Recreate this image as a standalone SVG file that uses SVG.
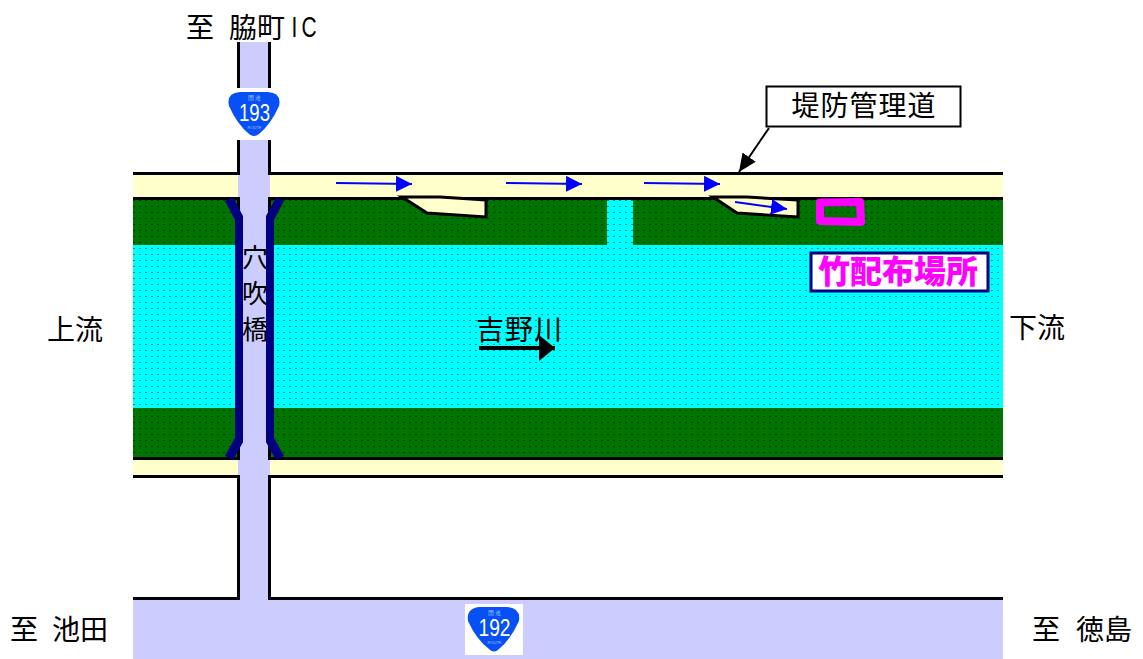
<svg xmlns="http://www.w3.org/2000/svg" width="1143" height="659" viewBox="0 0 1143 659">
<style>
text{font-family:"Noto Sans CJK JP","Liberation Sans",sans-serif;fill:#000;font-size:28px}
.road{fill:#ccccff}
.bank{fill:#ffffcc}
.k{stroke:#000;stroke-width:3;fill:none}
.br{stroke:#000080;stroke-width:8;fill:none}
.dg{stroke:#000080;stroke-width:9;fill:none}
.bl{stroke:#0000ff;stroke-width:2;fill:none;marker-end:url(#ba)}
.sign{fill:#0650f5}
.st{fill:#fff;font-family:"Liberation Sans",sans-serif;text-anchor:middle}
.sm{fill:#a8c8ff;font-family:"Liberation Sans",sans-serif;text-anchor:middle}
.poly{fill:#ffffcc;stroke:#000;stroke-width:3}
</style>
<defs>
<pattern id="pg" width="6" height="6" patternUnits="userSpaceOnUse"><rect width="6" height="6" fill="#007400"/><rect x="1" y="2" width="2" height="1" fill="#003c00"/></pattern>
<pattern id="pc" width="6" height="6" patternUnits="userSpaceOnUse"><rect width="6" height="6" fill="#00ffff"/><rect x="1" y="2" width="2" height="1" fill="#009098"/></pattern>
<marker id="ba" markerUnits="userSpaceOnUse" markerWidth="16" markerHeight="16" refX="16" refY="8" orient="auto"><path d="M0 0L16 8L0 16Z" fill="#0000ff"/></marker>
<marker id="ka" markerUnits="userSpaceOnUse" markerWidth="18" markerHeight="18" refX="18" refY="9" orient="auto"><path d="M0 1L18 9L0 17Z" fill="#000"/></marker>
<marker id="kb" markerUnits="userSpaceOnUse" markerWidth="16" markerHeight="26" refX="16" refY="13" orient="auto"><path d="M0 0L16 13L0 26Z" fill="#000"/></marker>
</defs>
<g id="river">
<rect x="133" y="173" width="870" height="25" class="bank"/>
<rect x="133" y="199" width="870" height="46" fill="url(#pg)"/>
<rect x="607" y="199" width="26" height="46" fill="url(#pc)"/>
<rect x="133" y="245" width="870" height="163" fill="url(#pc)"/>
<rect x="133" y="408" width="870" height="51" fill="url(#pg)"/>
<rect x="133" y="459" width="870" height="17" class="bank"/>
<path class="k" d="M133 173.500H1003M133 198.500H1003M133 458.500H1003M133 476.500H1003"/>
<path class="poly" d="M402 197H440L486 200V217L427 213Z"/>
<path class="poly" d="M713 197H747L798 200V217L737 213Z"/>
</g>
<g id="road-193">
<rect x="240" y="42" width="28" height="558" class="road"/>
<rect x="238" y="175" width="32" height="22" class="road"/>
<rect x="238" y="460" width="32" height="15" class="road"/>
<path class="k" d="M238.500 42V175M269.500 42V175M238.500 197V216M269.500 197V216M238.500 442V460M269.500 442V460M238.500 475V599M269.500 475V599"/>
</g>
<g id="road-192"><rect x="133" y="600" width="870" height="59" class="road"/><path class="k" d="M133 598.500H240M268 598.500H1003"/></g>
<g id="bridge">
<path class="br" d="M239 216V442M270 216V442"/>
<path class="dg" d="M239 218L229 199M270 218L280 199M239 440L229 458M270 440L280 458"/>
<text text-anchor="middle" style="font-size:26px"><tspan x="255" y="267">穴</tspan><tspan x="255" y="303">吹</tspan><tspan x="255" y="339">橋</tspan></text>
</g>
<g id="sign-193">
<rect x="227" y="88" width="55" height="52" fill="#fff"/>
<path class="sign" d="M240 92H268Q282 93 279 106Q271 124 259 134Q254 138 249 134Q237 124 229 106Q226 93 240 92Z"/>
<text class="st" x="254.500" y="121" textLength="31" lengthAdjust="spacingAndGlyphs" style="font-size:24px">193</text>
<text class="sm" x="254.500" y="100" style="font-size:6px">国 道</text>
<text class="sm" x="254.500" y="129" style="font-size:4px">ROUTE</text>
</g>
<g id="sign-192">
<rect x="465" y="604" width="58" height="51" fill="#fff"/>
<path class="sign" d="M480 607H507Q521 608 519 621Q511 639 499 649Q494 654 489 649Q476 639 468 621Q466 608 480 607Z"/>
<text class="st" x="494.500" y="636" textLength="32" lengthAdjust="spacingAndGlyphs" style="font-size:24px">192</text>
<text class="sm" x="494.500" y="615" style="font-size:6px">国 道</text>
<text class="sm" x="494.500" y="644" style="font-size:4px">ROUTE</text>
</g>
<g id="connectors">
<path class="bl" d="M336 183L412 184"/>
<path class="bl" d="M506 183L582 184"/>
<path class="bl" d="M644 183L720 184"/>
<path class="bl" d="M735 202L787 209"/>
<path d="M769 128L739 172" stroke="#000" stroke-width="2" fill="none" marker-end="url(#ka)"/>
<path d="M479 348H555" stroke="#000" stroke-width="4" fill="none" marker-end="url(#kb)"/>
</g>
<g id="label-road"><rect x="766.500" y="86.500" width="194" height="40" fill="#fff" stroke="#000" stroke-width="2"/><text x="864" y="116" text-anchor="middle" letter-spacing="1">堤防管理道</text></g>
<g id="bamboo-site"><path d="M820 202.500L860 202L861 222L820 221Z" fill="none" stroke="#ff00ff" stroke-width="8" stroke-linejoin="round"/></g>
<g id="label-bamboo"><rect x="811" y="253" width="177" height="38" fill="#fff" stroke="#000080" stroke-width="3"/><text x="898" y="283" text-anchor="middle" style="font-size:32px;font-weight:900;fill:#ff00ff">竹配布場所</text></g>
<g id="labels">
<text x="186" y="38">至</text><text x="229" y="38">脇町</text>
<text transform="translate(290 37) scale(.7 1)" x="2.300 16.400" y="0" style="font-family:'Liberation Sans',sans-serif;font-size:30px">IC</text>
<text x="47" y="340">上流</text>
<text x="1009" y="338">下流</text>
<text x="476" y="340" letter-spacing="1">吉野川</text>
<text x="10" y="640">至</text><text x="52" y="640">池田</text>
<text x="1032" y="640">至</text><text x="1076" y="640">徳島</text>
</g>
</svg>
